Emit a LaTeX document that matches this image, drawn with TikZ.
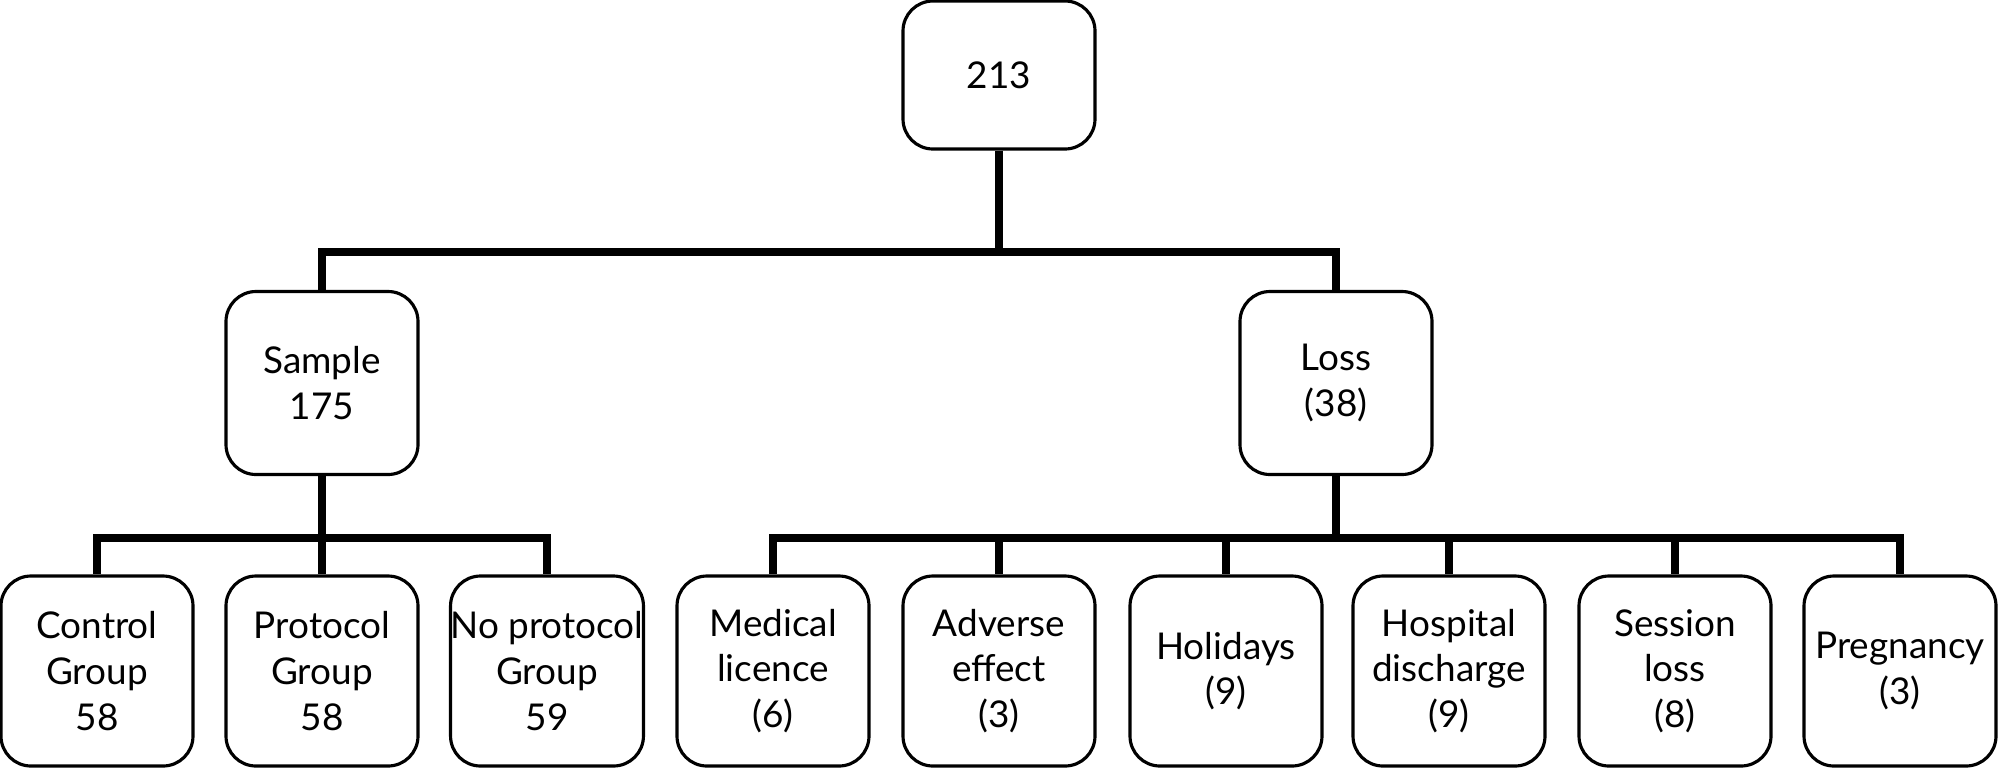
\documentclass[tikz,border=0pt]{standalone}
\usepackage{fontspec}
\setmainfont{Lato}
\usetikzlibrary{positioning}
\tikzset{
    box/.style={draw, line width=0.9pt, rounded corners=0.3cm, align=center,
        inner sep=0pt, minimum width=1.92cm,
        font=\fontsize{10.5}{13}\selectfont},
    link/.style={line width=2.4pt}
}
\begin{document}
\begin{tikzpicture}
    \useasboundingbox (0,0) rectangle (20,-7.67);

    % root
    \node[box, minimum height=1.48cm] (root) at (9.99,-0.75) {213};

    % first level
    \node[box, minimum height=1.83cm] (sample) at (3.22,-3.83) {Sample\\175};
    \node[box, minimum height=1.83cm] (loss) at (13.36,-3.83) {Loss\\(38)};

    % groups
    \node[box, minimum height=1.9cm] (control) at (0.97,-6.71) {Control\\Group\\58};
    \node[box, minimum height=1.9cm] (protocol) at (3.22,-6.71) {Protocol\\Group\\58};
    \node[box, minimum height=1.9cm] (noprot) at (5.47,-6.71) {No protocol\\Group\\59};

    % losses
    \node[box, minimum height=1.9cm] (medical) at (7.73,-6.71) {Medical\\licence\\(6)};
    \node[box, minimum height=1.9cm] (adverse) at (9.99,-6.71) {Adverse\\effect\\(3)};
    \node[box, minimum height=1.9cm] (holidays) at (12.26,-6.71) {Holidays\\(9)};
    \node[box, minimum height=1.9cm] (hospital) at (14.49,-6.71) {Hospital\\discharge\\(9)};
    \node[box, minimum height=1.9cm] (session) at (16.75,-6.71) {Session\\loss\\(8)};
    \node[box, minimum height=1.9cm] (pregnancy) at (19.0,-6.71) {Pregnancy\\(3)};

    % links
    \foreach \n in {sample,loss}
        \draw[link] (root.south) -- (root.south |- 0,-2.52) -| (\n.north);
    \foreach \n in {control,protocol,noprot}
        \draw[link] (sample.south) -- (sample.south |- 0,-5.38) -| (\n.north);
    \foreach \n in {medical,adverse,holidays,hospital,session,pregnancy}
        \draw[link] (loss.south) -- (loss.south |- 0,-5.38) -| (\n.north);

\end{tikzpicture}
\end{document}
